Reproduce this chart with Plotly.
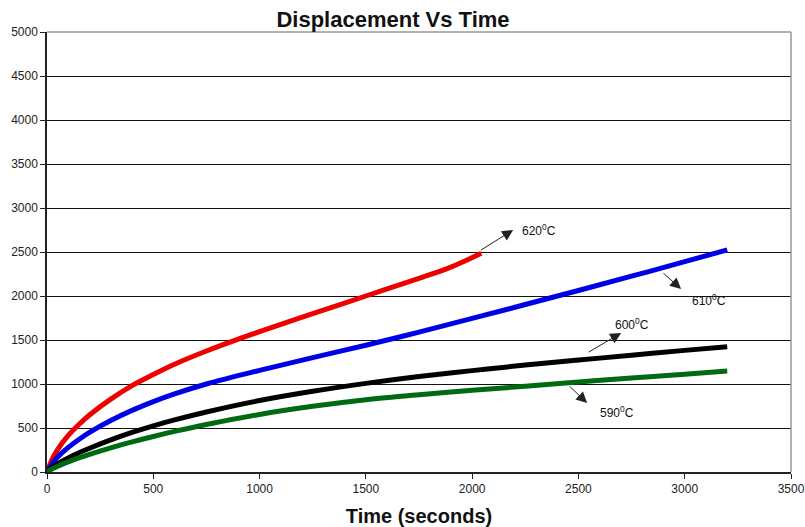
import plotly.graph_objects as go

# ---- data ----
t_620 = [0, 25, 50, 100, 150, 200, 300, 400, 500, 600, 750, 900, 1000, 1250, 1500, 1750, 1900, 2043]
d_620 = [0, 150, 255, 415, 540, 648, 828, 982, 1108, 1225, 1375, 1510, 1595, 1800, 2000, 2200, 2328, 2485]

t_common = [0, 25, 50, 100, 150, 200, 300, 400, 500, 600, 750, 1000, 1250, 1500, 1750,
            2000, 2250, 2500, 2750, 3000, 3200]
d_610 = [0, 95, 170, 280, 370, 450, 585, 700, 800, 888, 1000, 1155, 1300, 1440, 1590,
         1745, 1903, 2063, 2225, 2390, 2524]
d_600 = [0, 55, 95, 160, 218, 270, 365, 450, 525, 592, 682, 812, 917, 1007, 1085,
         1152, 1215, 1272, 1327, 1382, 1424]
d_590 = [0, 35, 65, 115, 160, 201, 275, 342, 404, 461, 539, 654, 746, 821, 878,
         928, 975, 1023, 1068, 1110, 1148]

series_names = ["620", "610", "600", "590"]
series_colors = ["#ee0000", "#0000e6", "#000000", "#006a10"]

# label arrows: (tail_t, tail_d, head_t, head_d, text_t, text_d)
label_arrows = [
    (2034, 2511, 2193, 2750, 2316, 2750),
    (2893, 2273, 2983, 2080, 3114, 1955),
    (2541, 1352, 2701, 1580, 2753, 1682),
    (2452, 989, 2541, 784, 2682, 682),
]

x_ticks = [0, 500, 1000, 1500, 2000, 2500, 3000, 3500]
y_ticks = [0, 500, 1000, 1500, 2000, 2500, 3000, 3500, 4000, 4500, 5000]

FONT = "Arial, Liberation Sans, sans-serif"

fig = go.Figure()
xs = [t_620, t_common, t_common, t_common]
ys = [d_620, d_610, d_600, d_590]
for name, col, x, y in zip(series_names, series_colors, xs, ys):
    fig.add_trace(go.Scatter(x=x, y=y, mode="lines", name=name + "°C",
                             line=dict(color=col, width=5, shape="spline", smoothing=1.0)))

for name, (tt, td, ht, hd, xt, yt) in zip(series_names, label_arrows):
    fig.add_annotation(x=ht, y=hd, ax=tt, ay=td, axref="x", ayref="y",
                       xref="x", yref="y", text="", showarrow=True,
                       arrowhead=2, arrowsize=2.2, arrowwidth=1, arrowcolor="#222222")
    fig.add_annotation(x=xt, y=yt, xref="x", yref="y", text=name + "<sup>0</sup>C",
                       showarrow=False, font=dict(family=FONT, size=12, color="#111111"))

# top and right frame (gray)
fig.add_shape(type="line", xref="paper", yref="paper", x0=0, x1=1, y0=1, y1=1,
              line=dict(color="#999999", width=1.5), layer="above")
fig.add_shape(type="line", xref="paper", yref="paper", x0=1, x1=1, y0=0, y1=1,
              line=dict(color="#999999", width=1.5), layer="above")

fig.update_layout(
    width=805, height=527, autosize=False,
    margin=dict(l=47, r=14, t=32, b=55, autoexpand=False),
    paper_bgcolor="white", plot_bgcolor="white",
    showlegend=False,
    title=dict(text="<b>Displacement Vs Time</b>", x=393 / 805, xanchor="center",
               y=1 - 19 / 527, yanchor="middle",
               font=dict(family=FONT, size=22, color="#111111")),
    font=dict(family=FONT, color="#222222"),
)
fig.update_xaxes(range=[0, 3500], tickvals=x_ticks, ticks="outside", ticklen=5,
                 tickcolor="#222222", showgrid=False, zeroline=False, automargin=False,
                 showline=True, linecolor="#222222", linewidth=1.5,
                 tickfont=dict(family=FONT, size=12, color="#222222"),
                 title=dict(text="<b>Time (seconds)</b>", standoff=14,
                            font=dict(family=FONT, size=20, color="#111111")))
fig.update_yaxes(range=[0, 5000], tickvals=y_ticks, ticks="outside", ticklen=5,
                 tickcolor="#222222", showgrid=True, gridcolor="#111111", gridwidth=1,
                 zeroline=False, showline=True, linecolor="#222222", linewidth=1.5,
                 automargin=False,
                 tickfont=dict(family=FONT, size=12, color="#222222"))

fig.write_html("out.html")
